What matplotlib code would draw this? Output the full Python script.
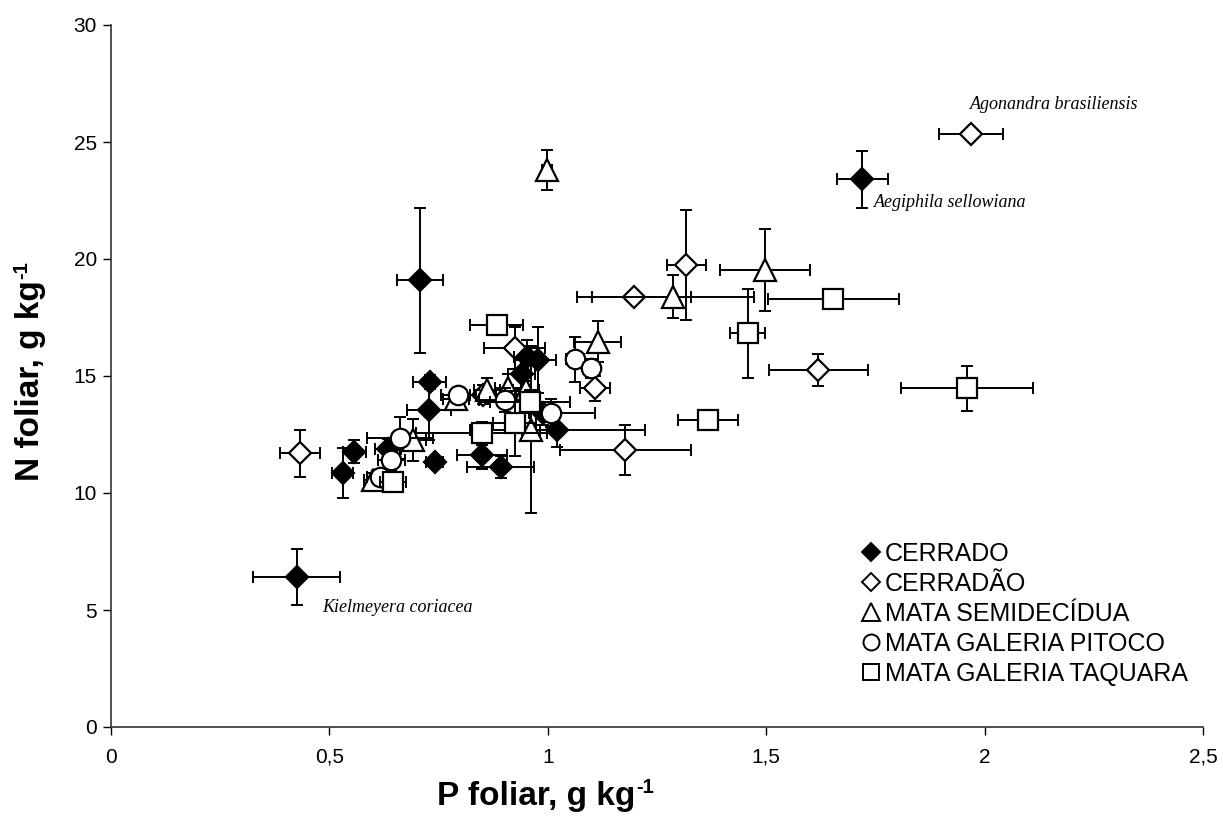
import matplotlib
matplotlib.use("Agg")
import matplotlib.pyplot as plt
from matplotlib.lines import Line2D

# ---- data ----
series_names = ["CERRADO", "CERRADÃO", "MATA SEMIDECÍDUA", "MATA GALERIA PITOCO", "MATA GALERIA TAQUARA"]

cerrado_p = [0.425, 1.72, 0.707, 0.730, 0.728, 0.978, 0.952, 0.940, 1.022, 0.849, 0.892, 0.741, 0.557, 0.530, 0.634, 0.988]
cerrado_n = [6.42, 23.4, 19.1, 14.76, 13.55, 15.68, 15.83, 15.1, 12.7, 11.62, 11.12, 11.34, 11.77, 10.84, 11.9, 13.4]
cerrado_pe = [0.10, 0.058, 0.053, 0.038, 0.05, 0.04, 0.03, 0.03, 0.2, 0.057, 0.076, 0.02, 0.027, 0.025, 0.03, 0.03]
cerrado_ne = [1.2, 1.21, 3.1, 0.3, 1.3, 1.4, 0.7, 0.6, 0.72, 0.6, 0.48, 0.2, 0.5, 1.07, 0.4, 0.5]

cerradao_p = [1.969, 1.317, 1.197, 1.619, 1.108, 1.177, 0.924, 0.852, 0.432]
cerradao_n = [25.34, 19.74, 18.39, 15.26, 14.47, 11.84, 16.18, 14.2, 11.7]
cerradao_pe = [0.073, 0.045, 0.13, 0.113, 0.034, 0.15, 0.069, 0.03, 0.046]
cerradao_ne = [0.2, 2.35, 0.2, 0.7, 0.55, 1.05, 0.9, 0.4, 1.0]

semid_p = [0.998, 1.498, 1.287, 1.114, 0.962, 0.860, 0.909, 0.691, 0.600, 0.790, 0.950]
semid_n = [23.8, 19.53, 18.39, 16.47, 12.7, 14.4, 14.5, 12.26, 10.55, 14.0, 14.4]
semid_pe = [0.012, 0.103, 0.185, 0.053, 0.02, 0.03, 0.03, 0.03, 0.02, 0.03, 0.03]
semid_ne = [0.85, 1.75, 0.92, 0.88, 3.57, 0.5, 0.6, 0.9, 0.3, 0.3, 0.4]

pitoco_p = [1.062, 1.100, 1.008, 0.902, 0.795, 0.661, 0.642, 0.615]
pitoco_n = [15.71, 15.33, 13.4, 13.97, 14.19, 12.35, 11.4, 10.7]
pitoco_pe = [0.02, 0.02, 0.10, 0.06, 0.04, 0.076, 0.03, 0.03]
pitoco_ne = [0.96, 0.4, 0.6, 0.5, 0.3, 0.9, 0.4, 0.3]

taquara_p = [1.654, 1.458, 1.960, 1.367, 0.883, 0.959, 0.924, 0.849, 0.646]
taquara_n = [18.29, 16.82, 14.47, 13.12, 17.18, 13.9, 12.98, 12.55, 10.48]
taquara_pe = [0.15, 0.04, 0.151, 0.069, 0.061, 0.092, 0.05, 0.15, 0.03]
taquara_ne = [0.3, 1.89, 0.96, 0.25, 0.3, 0.5, 1.4, 0.5, 0.3]

species_labels = ["Agonandra brasiliensis", "Aegiphila sellowiana", "Kielmeyera coriacea"]
species_pos = [(1.966, 26.6), (1.747, 22.4), (0.483, 5.1)]

x_ticks = [0, 0.5, 1, 1.5, 2, 2.5]
x_ticklabels = ["0", "0,5", "1", "1,5", "2", "2,5"]
y_ticks = [0, 5, 10, 15, 20, 25, 30]

x_label = "P foliar, g kg"
y_label = "N foliar, g kg"
unit_sup = "-1"

# ---- plot ----
plt.rcParams['font.family'] = ['Liberation Sans', 'DejaVu Sans']
W, H = 1223, 819
fig = plt.figure(figsize=(W / 100, H / 100), dpi=100)
ax = fig.add_axes([111 / W, 1 - 727 / H, 1092 / W, 702 / H])

styles = [
    dict(marker='D', ms=11.5, mfc='black', mec='black'),
    dict(marker='D', ms=11.5, mfc='white', mec='black'),
    dict(marker='^', ms=15.5, mfc='white', mec='black'),
    dict(marker='o', ms=14, mfc='white', mec='black'),
    dict(marker='s', ms=14.5, mfc='white', mec='black'),
]
data = [
    (cerrado_p, cerrado_n, cerrado_pe, cerrado_ne),
    (cerradao_p, cerradao_n, cerradao_pe, cerradao_ne),
    (semid_p, semid_n, semid_pe, semid_ne),
    (pitoco_p, pitoco_n, pitoco_pe, pitoco_ne),
    (taquara_p, taquara_n, taquara_pe, taquara_ne),
]
zorders = [4, 3, 5, 6, 7]
for (px, ny, pe, ne), st, z in zip(data, styles, zorders):
    ax.errorbar(px, ny, xerr=pe, yerr=ne, fmt='none', ecolor='black',
                elinewidth=1.4, capsize=4, capthick=1.4, zorder=z - 0.1)
    ax.plot(px, ny, linestyle='none', mew=1.6, zorder=z, **st)

for lab, (lx, ly) in zip(species_labels, species_pos):
    ax.text(lx, ly, lab, fontsize=13, fontstyle='italic',
            family=['Liberation Serif', 'DejaVu Serif'], ha='left', va='center')

ax.set_xlim(0, 2.5)
ax.set_ylim(0, 30)
ax.set_xticks(x_ticks)
ax.set_xticklabels(x_ticklabels)
ax.set_yticks(y_ticks)
ax.tick_params(axis='both', labelsize=15, direction='out', length=6, width=1, colors='black')
ax.tick_params(axis='y', pad=4)
ax.tick_params(axis='x', pad=9)
for s in ['top', 'right']:
    ax.spines[s].set_visible(False)
for s in ['left', 'bottom']:
    ax.spines[s].set_linewidth(1.2)
    ax.spines[s].set_color('#333333')

# axis labels with small superscript
lab_fs = 24
xl = fig.text(437 / W, 1 - 805 / H, x_label, fontsize=lab_fs, fontweight='bold',
              ha='left', va='baseline')
yl = fig.text(39 / W, 1 - 481 / H, y_label, fontsize=lab_fs, fontweight='bold',
              ha='left', va='baseline', rotation=90, rotation_mode='anchor')
fig.canvas.draw()
r = fig.canvas.get_renderer()
bx = xl.get_window_extent(r)
by = yl.get_window_extent(r)
fig.text((bx.x1 + 1) / W, (H - 805 + 12) / H, unit_sup, fontsize=14.5, fontweight='bold',
         ha='left', va='baseline')
fig.text((39 - 12) / W, (by.y1 + 1) / H, unit_sup, fontsize=14.5, fontweight='bold',
         ha='left', va='baseline', rotation=90, rotation_mode='anchor')

handles = []
leg_ms = [9.5, 9.5, 12.5, 11.5, 12]
for st, name, m in zip(styles, series_names, leg_ms):
    s2 = dict(st)
    s2['ms'] = m
    handles.append(Line2D([], [], linestyle='none', mew=1.4, label=name, **s2))
ax.legend(handles=handles, loc='upper left', bbox_to_anchor=(0.687, 0.264), frameon=False,
          fontsize=18, handlelength=0.8, handletextpad=0.15, labelspacing=0.24, borderpad=0,
          borderaxespad=0)

fig.savefig("out.png", dpi=100)
